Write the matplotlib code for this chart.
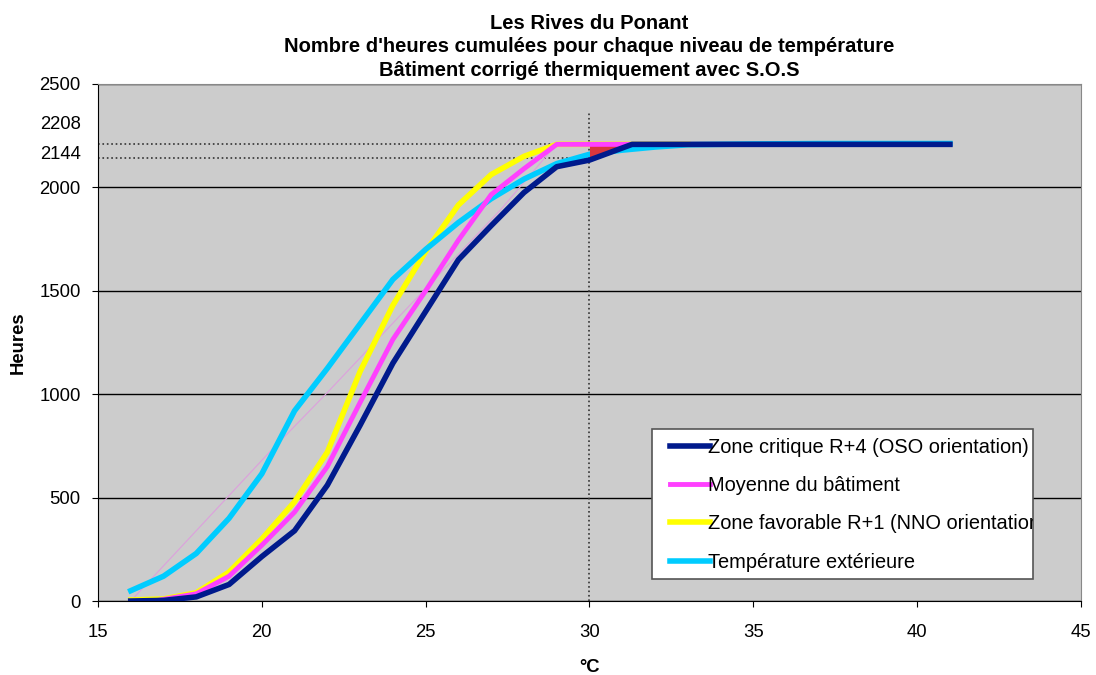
import numpy as np
import matplotlib.pyplot as plt
from matplotlib.patches import Rectangle

plt.rcParams['font.family'] = ['Liberation Sans', 'DejaVu Sans']

# temperatures (°C) and cumulated hours
t_crit = [16, 17, 18, 19, 20, 21, 22, 23, 24, 25, 26, 27, 28, 29, 30, 31.3,
          33, 35, 37, 39, 41]
h_crit = [0, 3, 20, 80, 215, 340, 560, 850, 1150, 1400, 1650, 1815, 1975,
          2100, 2132, 2208, 2208, 2208, 2208, 2208, 2208]

t_moy = [16.2, 17, 18, 19, 20, 21, 22, 23, 24, 25, 26, 27, 28, 29, 31, 33]
h_moy = [-15, 8, 35, 120, 270, 430, 650, 960, 1265, 1500, 1745, 1965, 2090,
         2208, 2208, 2208]

t_fav = [16, 17, 18, 19, 20, 21, 22, 23, 24, 25, 26, 27, 28, 29, 31, 33]
h_fav = [5, 10, 40, 140, 300, 480, 720, 1110, 1430, 1690, 1915, 2062, 2150,
         2208, 2208, 2208]

t_ext = [16, 17, 18, 19, 20, 21, 22, 23, 24, 25, 26, 27, 28, 29, 30, 31, 32,
         33, 35, 37, 39, 41]
h_ext = [50, 120, 230, 400, 615, 920, 1125, 1340, 1555, 1700, 1830, 1945,
         2040, 2115, 2160, 2180, 2195, 2206, 2210, 2212, 2212, 2212]

t_thin = [16, 20.3, 22, 24.6, 27.3, 28.6, 29]
h_thin = [0, 731, 1008, 1444, 1894, 2136, 2208]

t_ref = 30
h_max = 2208
h_ref = 2144

fig = plt.figure(figsize=(10.96, 6.75), dpi=100)
ax = fig.add_axes([0.0894, 0.1096, 0.8969, 0.766])
ax.set_facecolor('#cccccc')

ax.set_xlim(15, 45)
ax.set_ylim(0, 2500)
ax.set_xticks([15, 20, 25, 30, 35, 40, 45])
ax.set_yticks([0, 500, 1000, 1500, 2000, 2500])
ax.yaxis.grid(True, color='black', linewidth=1)
ax.set_axisbelow(True)

for side in ['top', 'right']:
    ax.spines[side].set_color('#888888')
for side in ['left', 'bottom']:
    ax.spines[side].set_color('black')
ax.tick_params(axis='both', direction='out', length=4.5, labelsize=13.3,
               colors='black')
ax.tick_params(axis='x', pad=12)
ax.tick_params(axis='y', pad=8)

# reference dotted lines
ax.plot([15, t_ref], [h_max, h_max], color='#333333', linestyle=':',
        linewidth=1.2, zorder=2)
ax.plot([15, t_ref], [h_ref, h_ref], color='#333333', linestyle=':',
        linewidth=1.2, zorder=2)
ax.plot([t_ref, t_ref], [0, 2370], color='#333333', linestyle=':',
        linewidth=1.2, zorder=2)

# red patch between critical zone curve and plateau
tc = np.array(t_crit, dtype=float)
hc = np.array(h_crit, dtype=float)
m = (tc >= t_ref) & (tc <= 31.3)
ax.fill_between(tc[m], hc[m], h_max, color='#d9363e', linewidth=0,
                zorder=6.5)

ax.plot(t_thin, h_thin, color='#dda0dd', linewidth=0.8, zorder=3)
ax.plot(t_fav, h_fav, color='#ffff00', linewidth=4, zorder=4,
        label='Zone favorable R+1 (NNO orientation)')
ax.plot(t_moy, h_moy, color='#ff40ff', linewidth=3.5, zorder=6.8,
        label='Moyenne du bâtiment')
ax.plot(t_ext, h_ext, color='#00ccff', linewidth=4, zorder=6,
        label='Température extérieure')
ax.plot(t_crit, h_crit, color='#001a8c', linewidth=4, zorder=7,
        label='Zone critique R+4 (OSO orientation)')

# extra value labels on the y axis
trans = ax.get_yaxis_transform()
ax.annotate(str(h_max), xy=(0, h_max), xycoords=trans, xytext=(-12.5, 14),
            textcoords='offset points', ha='right', va='center',
            fontsize=13.3)
ax.annotate(str(h_ref), xy=(0, h_ref), xycoords=trans, xytext=(-12.5, 2.5),
            textcoords='offset points', ha='right', va='center',
            fontsize=13.3)

# legend box (narrower than the longest label, which gets clipped)
box = Rectangle((0.5636, 0.0426), 0.3875, 0.2905, transform=ax.transAxes,
                facecolor='white', edgecolor='#555555', linewidth=1.2,
                zorder=8)
ax.add_patch(box)

handles, labels = ax.get_legend_handles_labels()
order = [3, 1, 0, 2]
leg = ax.legend([handles[i] for i in order], [labels[i] for i in order],
                loc='upper left', bbox_to_anchor=(0.582, 0.316),
                fontsize=14.4, frameon=False,
                handlelength=2.0, handletextpad=-0.1, labelspacing=0.97,
                borderpad=0, borderaxespad=0)
leg.set_zorder(9)
for txt in leg.get_texts():
    txt.set_clip_path(box)

ax.set_xlabel('°C', fontsize=13.3, fontweight='bold', labelpad=13)
ax.set_ylabel('Heures', fontsize=13.3, fontweight='bold', labelpad=9)
ax.set_title("Les Rives du Ponant\n"
             "Nombre d'heures cumulées pour chaque niveau de température\n"
             "Bâtiment corrigé thermiquement avec S.O.S",
             fontsize=14.5, fontweight='bold', pad=6, linespacing=1.28)

fig.savefig('out.png', dpi=100)
